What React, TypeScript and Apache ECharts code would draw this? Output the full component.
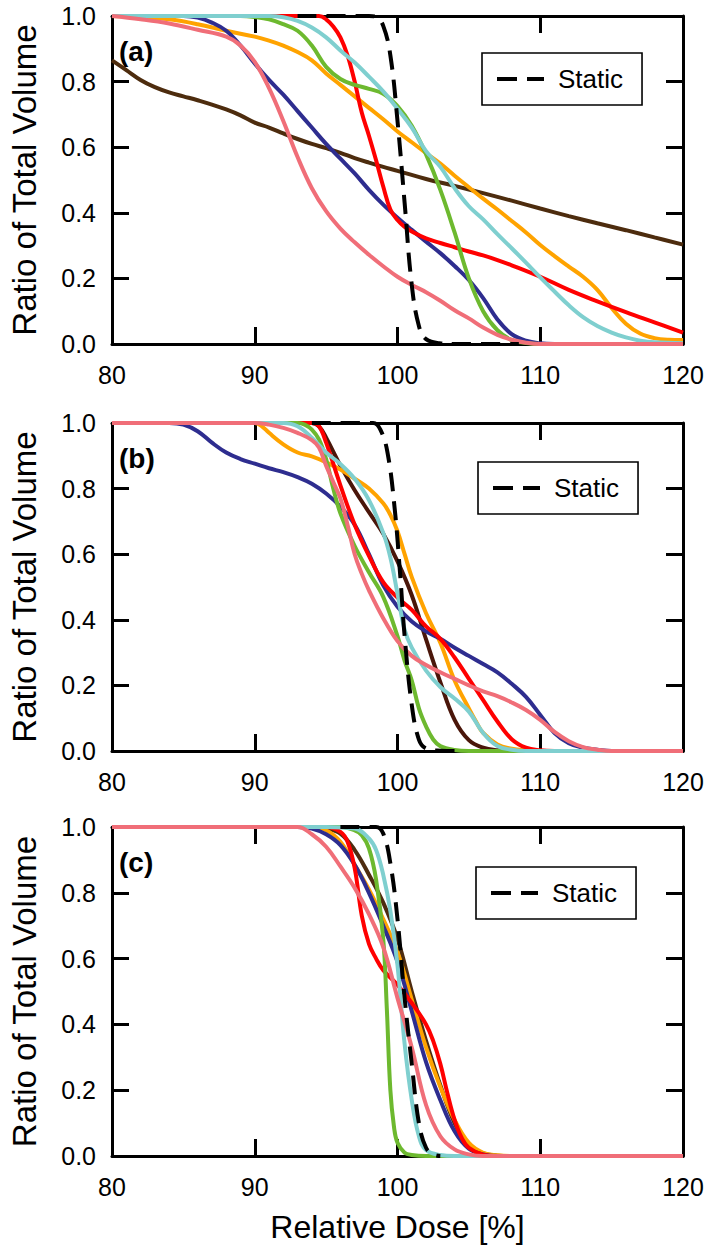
import React, { useEffect, useRef } from "react";
import * as echarts from "echarts";

// ---- data: [relative dose %, ratio of total volume] ----
const aStatic = [[93,1],[98,1],[98.5,0.997],[99,0.97],[99.5,0.88],[100,0.68],[100.5,0.43],[101,0.18],[101.5,0.055],[102,0.015],[103,0.002],[104,0],[108.5,0]];
const bStatic = [[94,1],[98.3,1],[98.8,0.98],[99.3,0.91],[99.8,0.74],[100.2,0.53],[100.5,0.35],[101,0.14],[101.5,0.035],[102,0.008],[103,0.001],[104,0]];
const cStatic = [[96,1],[98.5,1],[99,0.98],[99.5,0.89],[100,0.72],[100.5,0.48],[101,0.28],[101.5,0.1],[102,0.025],[102.5,0.005],[103,0]];

const aBrown = [[80,0.865],[81,0.835],[82,0.805],[83,0.783],[84,0.767],[85,0.755],[86,0.743],[87,0.73],[88,0.715],[89,0.697],[90,0.675],[91,0.66],[92,0.642],[93,0.625],[94,0.61],[95,0.597],[96,0.583],[97,0.567],[98,0.553],[99,0.54],[100,0.528],[102,0.503],[104,0.482],[106,0.46],[108,0.437],[110,0.413],[112,0.39],[114,0.368],[116,0.347],[118,0.325],[120,0.303]];
const aOrange = [[80,1],[82,0.997],[84,0.99],[86,0.975],[88,0.955],[90,0.937],[91,0.925],[92,0.91],[93,0.89],[94,0.865],[95,0.825],[96,0.79],[97,0.755],[98,0.72],[99,0.685],[100,0.648],[101,0.615],[102,0.582],[103,0.55],[104,0.513],[105,0.478],[106,0.443],[107,0.41],[108,0.375],[109,0.34],[110,0.302],[111,0.268],[112,0.236],[113,0.205],[114,0.165],[115,0.11],[116,0.062],[117,0.032],[118,0.018],[119,0.013],[120,0.012]];
const aBlue = [[80,1],[85,1],[86,0.995],[87,0.98],[88,0.955],[89,0.91],[90,0.855],[91,0.805],[92,0.76],[93,0.71],[94,0.66],[95,0.61],[96,0.565],[97,0.52],[98,0.47],[99,0.425],[100,0.385],[101,0.348],[102,0.312],[103,0.277],[104,0.238],[105,0.195],[106,0.14],[107,0.075],[108,0.03],[109,0.01],[110,0.002],[111,0],[120,0]];
const aRed = [[80,1],[94.5,1],[95,0.99],[95.5,0.968],[96,0.935],[96.5,0.88],[97,0.8],[97.5,0.705],[98,0.635],[98.5,0.56],[99,0.48],[99.5,0.41],[100,0.378],[100.5,0.357],[101,0.343],[102,0.322],[103,0.308],[104,0.295],[105,0.282],[106,0.27],[107,0.256],[108,0.24],[110,0.205],[112,0.165],[114,0.13],[116,0.097],[118,0.066],[120,0.035]];
const aGreen = [[80,1],[89,1],[90,0.997],[91,0.99],[92,0.975],[93,0.955],[94,0.91],[95,0.845],[96,0.808],[97,0.79],[98,0.778],[99,0.763],[100,0.725],[101,0.665],[102,0.578],[103,0.47],[104,0.34],[105,0.2],[106,0.1],[107,0.042],[108,0.012],[109,0.003],[110,0],[120,0]];
const aCyan = [[80,1],[91,1],[92,0.996],[93,0.985],[94,0.965],[95,0.935],[96,0.895],[97,0.858],[98,0.815],[99,0.77],[100,0.717],[101,0.66],[102,0.588],[103,0.54],[104,0.475],[105,0.42],[106,0.38],[107,0.335],[108,0.292],[109,0.248],[110,0.203],[111,0.16],[112,0.118],[113,0.082],[114,0.055],[115,0.035],[116,0.02],[117,0.01],[118,0.005],[120,0.002]];
const aPink = [[80,1],[82,0.99],[84,0.977],[86,0.958],[88,0.937],[89,0.91],[90,0.86],[91,0.78],[92,0.68],[93,0.57],[94,0.475],[95,0.405],[96,0.352],[97,0.31],[98,0.272],[99,0.237],[100,0.205],[101,0.18],[102,0.158],[103,0.132],[104,0.103],[105,0.078],[106,0.05],[107,0.028],[108,0.013],[109,0.004],[110,0],[120,0]];

const bBrown = [[80,1],[94,1],[94.5,0.99],[95,0.955],[96,0.87],[97,0.795],[98,0.728],[99,0.662],[100,0.578],[101,0.475],[102,0.34],[103,0.21],[104,0.095],[105,0.033],[106,0.01],[107,0.002],[108,0],[120,0]];
const bOrange = [[80,1],[90,1],[90.5,0.99],[91,0.97],[92,0.935],[93,0.91],[94,0.898],[95,0.88],[96,0.858],[97,0.83],[98,0.8],[99,0.755],[99.5,0.72],[100,0.67],[100.5,0.6],[101,0.53],[102,0.42],[103,0.33],[104,0.215],[105,0.13],[105.5,0.09],[106,0.055],[107,0.02],[108,0.007],[109,0.002],[110,0],[120,0]];
const bBlue = [[80,1],[84,1],[85,0.995],[86,0.975],[87,0.94],[88,0.91],[89,0.89],[90,0.876],[91,0.862],[92,0.85],[93,0.835],[94,0.815],[95,0.785],[96,0.745],[97,0.69],[98,0.6],[99,0.505],[100,0.44],[101,0.395],[102,0.365],[103,0.342],[104,0.315],[105,0.29],[106,0.265],[107,0.24],[108,0.205],[109,0.165],[110,0.11],[111,0.055],[112,0.024],[113,0.01],[114,0.004],[115,0],[120,0]];
const bRed = [[80,1],[94,1],[94.5,0.99],[95,0.94],[96,0.81],[97,0.69],[98,0.595],[99,0.515],[100,0.468],[101,0.43],[102,0.38],[103,0.342],[104,0.285],[105,0.22],[106,0.155],[107,0.09],[108,0.036],[109,0.01],[110,0.002],[111,0],[120,0]];
const bGreen = [[80,1],[93,1],[93.5,0.995],[94,0.98],[94.5,0.95],[95,0.89],[95.5,0.8],[96,0.725],[97,0.625],[98,0.545],[99,0.47],[100,0.35],[100.5,0.275],[101,0.215],[101.5,0.13],[102,0.075],[102.5,0.035],[103,0.015],[104,0.003],[105,0],[120,0]];
const bCyan = [[80,1],[92,1],[93,0.99],[94,0.955],[95,0.91],[96,0.875],[97,0.83],[98,0.765],[99,0.665],[99.5,0.59],[100,0.48],[100.5,0.37],[101,0.315],[102,0.245],[103,0.195],[104,0.16],[105,0.12],[106,0.055],[107,0.015],[108,0.004],[109,0],[120,0]];
const bPink = [[80,1],[90,1],[91,0.995],[92,0.985],[93,0.97],[94,0.948],[94.5,0.925],[95,0.87],[95.5,0.82],[96,0.77],[96.5,0.69],[97,0.6],[97.5,0.54],[98,0.49],[99,0.405],[100,0.335],[101,0.29],[102,0.262],[103,0.24],[104,0.22],[105,0.2],[106,0.182],[107,0.167],[108,0.148],[109,0.125],[110,0.095],[111,0.058],[112,0.03],[113,0.012],[114,0.004],[115,0],[120,0]];

const cBrown = [[80,1],[94,1],[95,0.995],[96,0.98],[97,0.93],[98,0.855],[99,0.77],[100,0.66],[101,0.5],[102,0.35],[103,0.215],[104,0.1],[105,0.032],[106,0.008],[107,0.001],[108,0],[120,0]];
const cOrange = [[80,1],[94,1],[95,0.99],[96,0.955],[97,0.885],[98,0.81],[99,0.72],[100,0.62],[101,0.475],[102,0.33],[103,0.21],[104,0.11],[105,0.04],[106,0.01],[107,0.002],[108,0],[120,0]];
const cBlue = [[80,1],[93,1],[94,0.995],[95,0.978],[96,0.945],[97,0.885],[98,0.8],[99,0.7],[100,0.59],[101,0.44],[102,0.285],[103,0.17],[104,0.075],[105,0.022],[106,0.005],[107,0],[120,0]];
const cRed = [[80,1],[95,1],[96,0.985],[96.5,0.955],[97,0.875],[97.5,0.73],[98,0.645],[98.5,0.6],[99,0.565],[100,0.52],[101,0.465],[102,0.4],[102.5,0.35],[103,0.28],[103.5,0.19],[104,0.11],[104.5,0.055],[105,0.025],[106,0.004],[107,0],[120,0]];
const cGreen = [[80,1],[96,1],[97,0.99],[97.5,0.975],[98,0.935],[98.5,0.84],[99,0.66],[99.25,0.45],[99.5,0.2],[99.75,0.09],[100,0.04],[100.5,0.01],[101,0.003],[102,0],[120,0]];
const cCyan = [[80,1],[95,1],[97,0.995],[98,0.965],[98.5,0.93],[99,0.855],[99.5,0.745],[100,0.58],[100.5,0.34],[101,0.17],[101.5,0.06],[102,0.018],[103,0.003],[104,0],[120,0]];
const cPink = [[80,1],[93,1],[94,0.978],[95,0.94],[96,0.88],[97,0.815],[98,0.735],[99,0.635],[100,0.48],[101,0.33],[102,0.155],[103,0.06],[104,0.02],[105,0.005],[106,0],[120,0]];

const panelLabels = ["(a)", "(b)", "(c)"];
const staticName = "Static";
const xTicks = { min: 80, max: 120, interval: 10 };
const yTicks = { min: 0, max: 1, interval: 0.2 };

const seriesKeys = ["brown", "orange", "blue", "red", "green", "cyan", "pink"];
const panelColors = [
  { brown: "#4d2c0e", orange: "#ffa300", blue: "#2e2d8f", red: "#ff0000", green: "#6db92f", cyan: "#7fcfcf", pink: "#f06e78" },
  { brown: "#4a160a", orange: "#ffa300", blue: "#2e2d8f", red: "#ff0000", green: "#6db92f", cyan: "#7fcfcf", pink: "#f06e78" },
  { brown: "#4e2c10", orange: "#ffa300", blue: "#2e2d8f", red: "#ff0000", green: "#6db92f", cyan: "#7fcfcf", pink: "#f06e78" },
];

const panelData = [
  { brown: aBrown, orange: aOrange, blue: aBlue, red: aRed, green: aGreen, cyan: aCyan, pink: aPink, static: aStatic },
  { brown: bBrown, orange: bOrange, blue: bBlue, red: bRed, green: bGreen, cyan: bCyan, pink: bPink, static: bStatic },
  { brown: cBrown, orange: cOrange, blue: cBlue, red: cRed, green: cGreen, cyan: cCyan, pink: cPink, static: cStatic },
];

const FONT = "'Liberation Sans', Arial, Helvetica, sans-serif";
const GRID_LEFT = 104;
const GRID_WIDTH = 579;
const GRID_TOPS = [16, 423, 827];
const GRID_HEIGHTS = [328, 328, 329];
const LEGEND_LEFTS = [482, 478, 476];
const LEGEND_TOPS = [53, 462, 867];

export default function App() {
  const ref = useRef<HTMLDivElement>(null);
  useEffect(() => {
    if (!ref.current) return;
    const chart = echarts.init(ref.current, null, { renderer: "svg" });
    const axisLine = { show: true, onZero: false, lineStyle: { color: "#000", width: 3 } };
    const axisTick = { show: true, inside: true, length: 17, lineStyle: { color: "#000", width: 3 } };

    const grid: any[] = [];
    const xAxis: any[] = [];
    const yAxis: any[] = [];
    const series: any[] = [];
    const legend: any[] = [];
    const title: any[] = [];

    panelData.forEach((pd: any, i) => {
      grid.push({ left: GRID_LEFT, top: GRID_TOPS[i], width: GRID_WIDTH, height: GRID_HEIGHTS[i], containLabel: false });
      xAxis.push({
        type: "value", gridIndex: i, position: "bottom", ...xTicks,
        axisLine, axisTick, splitLine: { show: false },
        axisLabel: { fontSize: 25, color: "#000", fontFamily: FONT, margin: 18 },
        name: i === 2 ? "Relative Dose [%]" : "",
        nameLocation: "middle", nameGap: 55,
        nameTextStyle: { fontSize: 32, color: "#000", fontFamily: FONT },
      });
      xAxis.push({
        type: "value", gridIndex: i, position: "top", ...xTicks,
        axisLine, axisTick, splitLine: { show: false }, axisLabel: { show: false },
      });
      yAxis.push({
        type: "value", gridIndex: i, position: "left", ...yTicks,
        axisLine, axisTick, splitLine: { show: false },
        axisLabel: { fontSize: 25, color: "#000", fontFamily: FONT, margin: 16, formatter: (v: number) => v.toFixed(1) },
        name: "Ratio of Total Volume", nameLocation: "middle", nameGap: 71,
        nameTextStyle: { fontSize: 33, color: "#000", fontFamily: FONT },
      });
      yAxis.push({
        type: "value", gridIndex: i, position: "right", ...yTicks,
        axisLine, axisTick, splitLine: { show: false }, axisLabel: { show: false },
      });

      seriesKeys.forEach((k) => {
        const c = (panelColors[i] as any)[k];
        series.push({
          type: "line", name: k, xAxisIndex: 2 * i, yAxisIndex: 2 * i,
          data: pd[k], symbol: "none", smooth: 0.4,
          color: c, lineStyle: { color: c, width: 4 },
          silent: true,
        });
      });
      series.push({
        type: "line", name: staticName, xAxisIndex: 2 * i, yAxisIndex: 2 * i,
        data: pd.static, symbol: "none", smooth: 0.4,
        color: "#000", lineStyle: { color: "#000", width: 4, type: [19, 10] },
        silent: true, z: 5,
      });

      legend.push({
        data: [{ name: staticName, icon: "path://M0,0h20v4h-20z M30,0h17v4h-17z" }],
        left: LEGEND_LEFTS[i], top: LEGEND_TOPS[i],
        borderColor: "#000", borderWidth: 1.6, backgroundColor: "#fff",
        padding: [12, 19, 12, 15], itemWidth: 47, itemHeight: 4,
        selectedMode: false,
        textStyle: { fontSize: 26, lineHeight: 28, color: "#000", fontFamily: FONT, padding: [0, 0, 0, 9] },
      });
      title.push({
        text: panelLabels[i], left: 119, top: GRID_TOPS[i] + 21, padding: 0,
        textStyle: { fontSize: 28, fontWeight: "bold", color: "#000", fontFamily: FONT },
      });
    });

    chart.setOption({ animation: false, backgroundColor: "#fff", grid, xAxis, yAxis, series, legend, title });
    return () => chart.dispose();
  }, []);

  return <div ref={ref} style={{ position: "absolute", left: 0, top: 0, width: 709, height: 1249 }} />;
}
